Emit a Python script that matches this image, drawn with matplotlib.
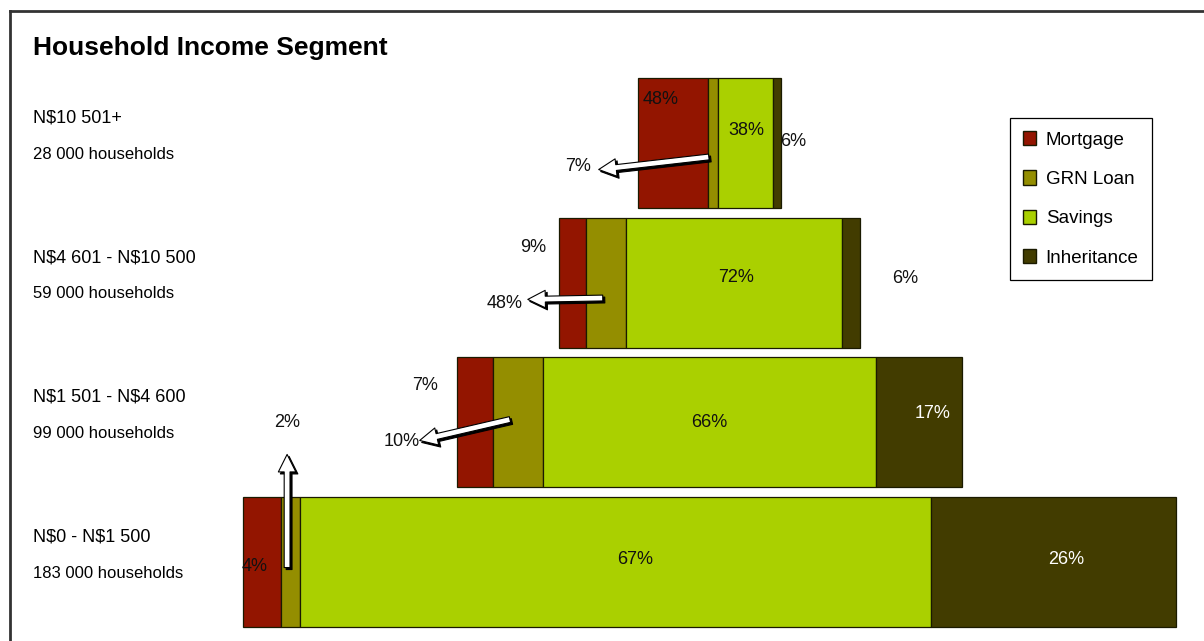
import matplotlib
matplotlib.use("Agg")
import matplotlib.pyplot as plt
from matplotlib.patches import Patch
from matplotlib.transforms import ScaledTranslation
import numpy as np

plt.rcParams["font.family"] = ["Liberation Sans", "DejaVu Sans"]
plt.rcParams["text.parse_math"] = False

# data, bottom row first
segments = ["N$0 - N$1 500", "N$1 501 - N$4 600", "N$4 601 - N$10 500", "N$10 501+"]
households = [183, 99, 59, 28]  # thousands
sources = ["Mortgage", "GRN Loan", "Savings", "Inheritance"]
mortgage = [4, 7, 9, 48]
grn_loan = [2, 10, 13, 7]
savings = [67, 66, 72, 38]
inheritance = [26, 17, 6, 6]
# the labels as printed on the chart (GRN loan of the 4 601 row reads 48%)
label_text = [
    ["4%", "2%", "67%", "26%"],
    ["7%", "10%", "66%", "17%"],
    ["9%", "48%", "72%", "6%"],
    ["48%", "7%", "38%", "6%"],
]

colors = ["#931500", "#948e00", "#aad000", "#423c00"]

fig = plt.figure(figsize=(12.04, 6.41), dpi=100)
ax = fig.add_axes([0, 0, 1, 1])
ax.set_xlim(-139.2, 96.9)
ax.set_ylim(-0.566, 4.024)
ax.axis("off")

shares = np.array([mortgage, grn_loan, savings, inheritance], dtype=float).T
hh = np.array(households, dtype=float)
widths = shares / shares.sum(axis=1, keepdims=True) * hh[:, None]
lefts = -hh[:, None] / 2 + np.cumsum(widths, axis=1) - widths
rows = np.arange(len(segments))

for j, src in enumerate(sources):
    ax.barh(rows, widths[:, j], left=lefts[:, j], height=0.93,
            color=colors[j], edgecolor="#1a1a00", linewidth=0.9, label=src)

# label placement (x, y, colour) per row / segment
label_pos = [
    [(-89.2, -0.03, "#111"), (-82.9, 1.0, "#111"), (-14.7, 0.02, "#111"), (69.8, 0.02, "white")],
    [(-55.9, 1.26, "#111"), (-60.4, 0.86, "#111"), (-0.2, 1.0, "#111"), (43.7, 1.06, "white")],
    [(-34.7, 2.255, "#111"), (-40.2, 1.85, "#111"), (5.1, 2.04, "#111"), (38.4, 2.03, "#111")],
    [(-9.6, 3.31, "#111"), (-25.9, 2.83, "#111"), (7.1, 3.09, "#111"), (16.3, 3.01, "#111")],
]
for i in rows:
    for j in range(4):
        x, y, c = label_pos[i][j]
        ax.text(x, y, label_text[i][j], ha="center", va="center",
                fontsize=13, color=c)

# block arrows from the thin GRN segments to their labels
arrows = [
    ((-82.9, -0.04), (-82.9, 0.77)),
    ((-39.2, 1.02), (-56.9, 0.87)),
    ((-21.0, 1.89), (-35.7, 1.88)),
    ((-0.2, 2.90), (-21.8, 2.81)),
]
shadow = ax.transData + ScaledTranslation(2 / 100, -2 / 100, fig.dpi_scale_trans)
style = "simple,head_length=0.9,head_width=0.9,tail_width=0.3"
for tail, tip in arrows:
    ax.annotate("", xy=tip, xytext=tail, xycoords=shadow, textcoords=shadow,
                arrowprops=dict(arrowstyle=style, fc="black", ec="black",
                                lw=0.8, shrinkA=0, shrinkB=0, mutation_scale=14))
    ax.annotate("", xy=tip, xytext=tail,
                arrowprops=dict(arrowstyle=style, fc="white", ec="black",
                                lw=0.8, shrinkA=0, shrinkB=0, mutation_scale=14))

# row labels on the left
for i in rows:
    ax.text(33 / 1204, i + 0.18, segments[i], transform=ax.get_yaxis_transform(),
            ha="left", va="center", fontsize=13)
    ax.text(33 / 1204, i - 0.08, f"{households[i]} 000 households",
            transform=ax.get_yaxis_transform(), ha="left", va="center", fontsize=12)

fig.text(33 / 1204, 1 - 48 / 641, "Household Income Segment", ha="left", va="center",
         fontsize=19, fontweight="bold")

# outer frame (top and left edge)
fig.add_artist(plt.Line2D([10 / 1204, 10 / 1204], [0, 1 - 11 / 641],
                          transform=fig.transFigure, color="#333", lw=2))
fig.add_artist(plt.Line2D([10 / 1204, 1], [1 - 11 / 641, 1 - 11 / 641],
                          transform=fig.transFigure, color="#333", lw=2))

handles = [Patch(facecolor=c, edgecolor="#1a1a00", label=s) for c, s in zip(colors, sources)]
leg = ax.legend(handles=handles, loc="upper left", bbox_to_anchor=(1010 / 1204, 1 - 118 / 641),
                frameon=True, fancybox=False, framealpha=1, edgecolor="black",
                fontsize=13.5, handlelength=0.7, handleheight=0.8, handletextpad=0.5,
                labelspacing=1.15, borderpad=0.7, borderaxespad=0)
leg.get_frame().set_linewidth(0.9)

fig.savefig("out.png", dpi=100)
